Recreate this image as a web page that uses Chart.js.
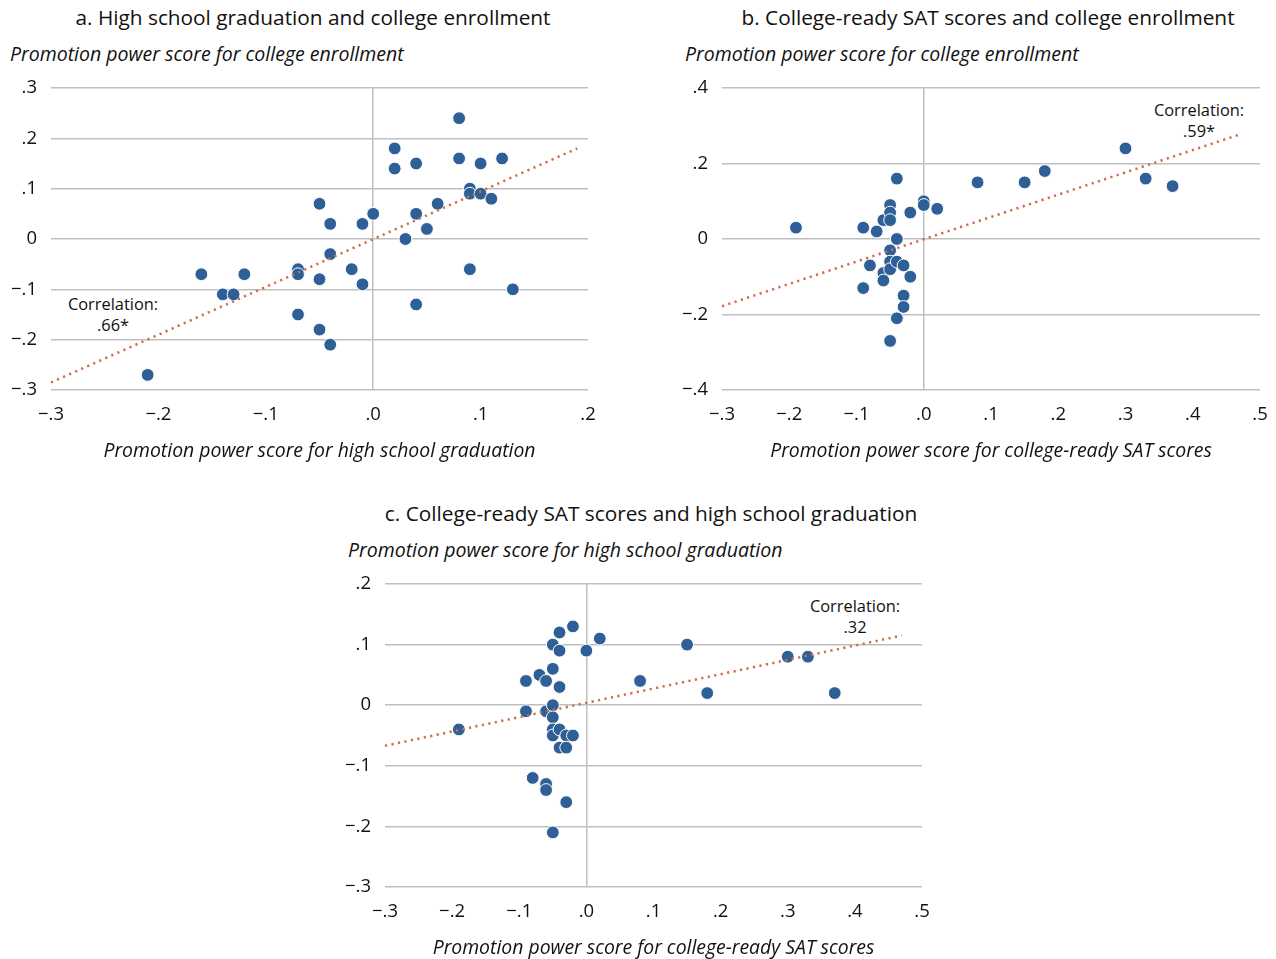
<!DOCTYPE html>
<html>
<head>
<meta charset="utf-8">
<script src="https://cdn.jsdelivr.net/npm/chart.js@4"></script>
<style>
  html, body { margin: 0; padding: 0; background: #fff; }
  body { width: 1276px; height: 959px; position: relative; overflow: hidden; font-family: "Open Sans", sans-serif; color: #111; }
  .title { position: absolute; width: 600px; text-align: center; font-size: 20.8px; line-height: 24px; white-space: nowrap; }
  .ytitle { position: absolute; font-size: 19.5px; font-style: italic; line-height: 24px; white-space: nowrap; }
  .corr { position: absolute; width: 120px; text-align: center; font-size: 16.4px; line-height: 21px; }
  .panel { position: absolute; }
</style>
</head>
<body>
<div class="title" style="left:13px; top:5px;">a. High school graduation and college enrollment</div>
<div class="ytitle" style="left:10px; top:42px;">Promotion power score for college enrollment</div>
<div class="corr" style="left:53px; top:293px;">Correlation:<br>.66*</div>
<div class="panel" style="left:0px; top:70px; width:600px; height:400px;"><canvas id="chartA"></canvas></div>

<div class="title" style="left:688px; top:5px;">b. College-ready SAT scores and college enrollment</div>
<div class="ytitle" style="left:685px; top:42px;">Promotion power score for college enrollment</div>
<div class="corr" style="left:1139px; top:99px;">Correlation:<br>.59*</div>
<div class="panel" style="left:680px; top:70px; width:596px; height:400px;"><canvas id="chartB"></canvas></div>

<div class="title" style="left:351px; top:501px;">c. College-ready SAT scores and high school graduation</div>
<div class="ytitle" style="left:348px; top:538px;">Promotion power score for high school graduation</div>
<div class="corr" style="left:795px; top:595px;">Correlation:<br>.32</div>
<div class="panel" style="left:340px; top:566px; width:600px; height:401px;"><canvas id="chartC"></canvas></div>

<script>
// a. high school graduation (x) vs college enrollment (y)
const aX = [-0.21,-0.16,-0.14,-0.13,-0.12,-0.07,-0.07,-0.07,-0.05,-0.05,-0.05,-0.04,-0.04,-0.04,-0.02,-0.01,-0.01,0.00,0.02,0.02,0.03,0.04,0.04,0.04,0.05,0.06,0.08,0.08,0.09,0.09,0.09,0.10,0.10,0.11,0.12,0.13];
const aY = [-0.27,-0.07,-0.11,-0.11,-0.07,-0.06,-0.07,-0.15,0.07,-0.08,-0.18,0.03,-0.03,-0.21,-0.06,0.03,-0.09,0.05,0.18,0.14,0.00,0.15,0.05,-0.13,0.02,0.07,0.24,0.16,0.10,0.09,-0.06,0.15,0.09,0.08,0.16,-0.10];
const aTrendX = [-0.30, 0.19];
const aTrendY = [-0.285, 0.18];
const aXTicks = ['\u2212.3','\u2212.2','\u2212.1','.0','.1','.2'];
const aYTicks = ['\u2212.3','\u2212.2','\u2212.1','0','.1','.2','.3'];

// b. college-ready SAT (x) vs college enrollment (y)
const bX = [-0.19,-0.09,-0.09,-0.08,-0.07,-0.06,-0.06,-0.06,-0.05,-0.05,-0.05,-0.05,-0.05,-0.05,-0.05,-0.04,-0.04,-0.04,-0.04,-0.03,-0.03,-0.03,-0.02,-0.02,0.00,0.00,0.02,0.08,0.15,0.18,0.30,0.33,0.37];
const bY = [0.03,0.03,-0.13,-0.07,0.02,0.05,-0.09,-0.11,0.09,0.07,0.05,-0.03,-0.06,-0.08,-0.27,0.16,0.00,-0.06,-0.21,-0.07,-0.15,-0.18,0.07,-0.10,0.10,0.09,0.08,0.15,0.15,0.18,0.24,0.16,0.14];
const bTrendX = [-0.30, 0.47];
const bTrendY = [-0.178, 0.277];
const bXTicks = ['\u2212.3','\u2212.2','\u2212.1','.0','.1','.2','.3','.4','.5'];
const bYTicks = ['\u2212.4','\u2212.2','0','.2','.4'];

// c. college-ready SAT (x) vs high school graduation (y)
const cX = [-0.19,-0.09,-0.09,-0.08,-0.07,-0.06,-0.06,-0.06,-0.06,-0.05,-0.05,-0.05,-0.05,-0.05,-0.05,-0.05,-0.04,-0.04,-0.04,-0.04,-0.04,-0.03,-0.03,-0.03,-0.02,-0.02,0.00,0.02,0.08,0.15,0.18,0.30,0.33,0.37];
const cY = [-0.04,0.04,-0.01,-0.12,0.05,0.04,-0.01,-0.13,-0.14,0.10,0.06,0.00,-0.02,-0.04,-0.05,-0.21,0.12,0.09,0.03,-0.04,-0.07,-0.05,-0.07,-0.16,0.13,-0.05,0.09,0.11,0.04,0.10,0.02,0.08,0.08,0.02];
const cTrendX = [-0.30, 0.47];
const cTrendY = [-0.067, 0.115];
const cXTicks = ['\u2212.3','\u2212.2','\u2212.1','.0','.1','.2','.3','.4','.5'];
const cYTicks = ['\u2212.3','\u2212.2','\u2212.1','0','.1','.2'];

const gridColor = '#bfbfbf';
const tickFont = { family: 'Open Sans', size: 18.5 };

function toPoints(xs, ys) {
  return xs.map((x, i) => ({ x: x, y: ys[i] }));
}

function makePanel(id, xs, ys, tx, ty, xr, yr, xTicks, yTicks, xTitle, yWidth, rightPad) {
  const ctx = document.getElementById(id).getContext('2d');
  return new Chart(ctx, {
    type: 'scatter',
    data: {
      datasets: [{
        type: 'line',
        data: toPoints(tx, ty),
        borderColor: '#cf6d4b',
        borderWidth: 2.5,
        borderDash: [2.2, 4.4],
        pointRadius: 0,
        fill: false,
        order: 0
      }, {
        data: toPoints(xs, ys),
        backgroundColor: '#2e5f96',
        borderColor: '#ffffff',
        borderWidth: 1,
        pointRadius: 6.4,
        order: 1
      }]
    },
    options: {
      responsive: true,
      maintainAspectRatio: false,
      animation: false,
      layout: { autoPadding: false, padding: { top: 18, right: rightPad, left: 0, bottom: 0 } },
      plugins: { legend: { display: false }, tooltip: { enabled: false } },
      scales: {
        x: {
          type: 'linear', min: xr[0], max: xr[1],
          ticks: { stepSize: xr[2], color: '#111', font: tickFont, padding: 14,
                   callback: (v, i) => xTicks[i] },
          grid: { drawTicks: false, lineWidth: 1.5,
                  color: c => (c.tick && Math.abs(c.tick.value) < 1e-9) ? gridColor : 'rgba(0,0,0,0)' },
          border: { display: false },
          title: { display: true, text: xTitle, color: '#111',
                   font: { family: 'Open Sans', size: 19.4, style: 'italic' }, padding: { top: 0, bottom: 7 } },
          afterFit: s => { s.height = 80; s.paddingLeft = 0; s.paddingRight = 0; }
        },
        y: {
          type: 'linear', min: yr[0], max: yr[1],
          ticks: { stepSize: yr[2], color: '#111', font: tickFont, padding: 14,
                   callback: (v, i) => yTicks[i] },
          grid: { drawTicks: false, lineWidth: 1.5, color: gridColor },
          border: { display: false },
          afterFit: s => { s.width = yWidth; s.paddingTop = 0; s.paddingBottom = 0; }
        }
      }
    }
  });
}

makePanel('chartA', aX, aY, aTrendX, aTrendY, [-0.3, 0.2, 0.1], [-0.3, 0.3, 0.1],
  aXTicks, aYTicks, 'Promotion power score for high school graduation', 51, 12);
makePanel('chartB', bX, bY, bTrendX, bTrendY, [-0.3, 0.5, 0.1], [-0.4, 0.4, 0.2],
  bXTicks, bYTicks, 'Promotion power score for college-ready SAT scores', 42, 16);
makePanel('chartC', cX, cY, cTrendX, cTrendY, [-0.3, 0.5, 0.1], [-0.3, 0.2, 0.1],
  cXTicks, cYTicks, 'Promotion power score for college-ready SAT scores', 45, 18);
</script>
</body>
</html>
